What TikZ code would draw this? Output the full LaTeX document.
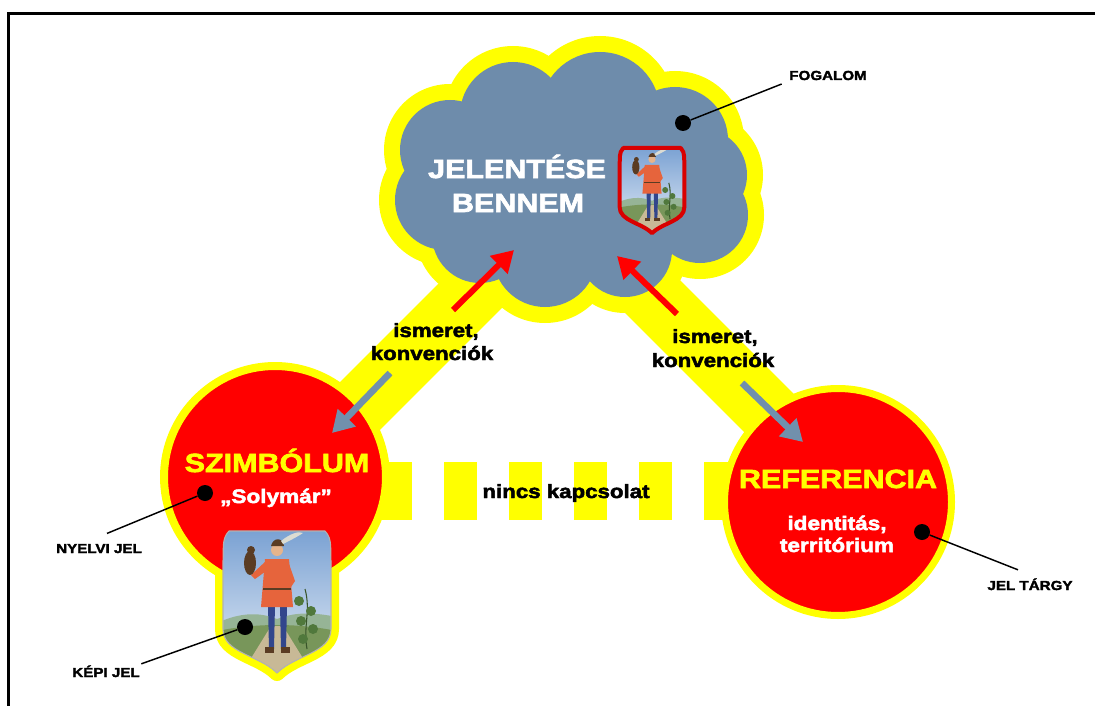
\documentclass[tikz,border=0pt]{standalone}
\usepackage{fontspec}
\setmainfont{Liberation Sans}[FakeStretch=1.16, FakeBold=2.5]
\usepackage{tikz}
\usetikzlibrary{arrows.meta, calc}
\definecolor{hlyellow}{HTML}{FFFF00}
\definecolor{signred}{HTML}{FF0000}
\definecolor{cloudblue}{HTML}{6E8CAB}
\definecolor{arrowgrey}{HTML}{7190AC}
\definecolor{crestsky}{RGB}{120,160,210}
\definecolor{crestfar}{RGB}{150,180,150}
\definecolor{crestgrass}{RGB}{120,150,90}
\definecolor{crestroad}{RGB}{200,185,150}
\definecolor{crestlegs}{RGB}{50,70,140}
\definecolor{cresttunic}{RGB}{230,100,60}
\definecolor{crestskin}{RGB}{230,180,140}
\definecolor{crestbird}{RGB}{90,60,35}
\definecolor{crestleaf}{RGB}{80,120,60}
\definecolor{crestfeather}{RGB}{220,220,210}

% outline of the coat of arms, top centre at (0,0)
\newcommand\crestpath{(-48,0) -- (48,0) .. controls (56,8) and (53,20) .. (54,30) -- (54,98) .. controls (54,122) and (18,124) .. (0,142) .. controls (-18,124) and (-54,122) .. (-54,98) -- (-54,30) .. controls (-53,20) and (-56,8) .. (-48,0) -- cycle}

\tikzset{
  pics/crest/.style={code={
    \begin{scope}
      \clip \crestpath;
      \shade[top color=crestsky, bottom color=crestsky!45!white] (-60,-4) rectangle (60,96);
      \fill[crestfar] (-60,92) .. controls (-30,78) and (-10,84) .. (0,88) .. controls (20,80) and (40,82) .. (60,86) -- (60,150) -- (-60,150) -- cycle;
      \fill[crestgrass] (-60,100) .. controls (-20,92) and (20,92) .. (60,100) -- (60,150) -- (-60,150) -- cycle;
      \fill[crestroad] (-6,95) -- (6,95) -- (40,150) -- (-40,150) -- cycle;
      % vine
      \draw[crestleaf!70!black, line width=0.8pt] (30,118) .. controls (26,95) and (34,80) .. (28,58);
      \foreach \lx/\ly in {22/70, 34/80, 24/90, 36/98, 26/108}
        \fill[crestleaf] (\lx,\ly) circle [radius=5];
      % falconer
      \fill[crestlegs] (-9,74) -- (-2,74) -- (-3,118) -- (-8,118) -- cycle;
      \fill[crestlegs] (3,74) -- (10,74) -- (9,118) -- (4,118) -- cycle;
      \fill[crestbird] (-12,116) rectangle (-3,122);
      \fill[crestbird] (4,116) rectangle (13,122);
      \fill[cresttunic] (-12,28) -- (12,28) -- (16,76) -- (-16,76) -- cycle;
      \fill[cresttunic] (-11,30) -- (-26,44) -- (-22,48) -- (-8,38) -- cycle;
      \fill[cresttunic] (11,30) -- (18,50) -- (14,56) -- (8,40) -- cycle;
      \draw[crestbird, line width=0.8pt] (-14,58) -- (14,58);
      \fill[crestskin] (0,19) circle [radius=6];
      \fill[crestbird] (-6,15) .. controls (-4,6) and (6,6) .. (7,15) -- cycle;
      \fill[crestfeather] (4,10) .. controls (14,2) and (22,0) .. (26,2) .. controls (20,6) and (12,10) .. (6,13) -- cycle;
      \fill[crestbird] (-27,32) ellipse [x radius=6, y radius=12];
      \fill[crestbird] (-26,19) circle [radius=4];
    \end{scope}
  }},
  sign/.style={circle, fill=signred, draw=hlyellow, inner sep=0pt},
  dot/.style={circle, fill=black, inner sep=0pt, minimum size=12pt},
  leader/.style={line width=1.1pt},
  callout/.style={font=\bfseries\fontsize{9.8}{11}\selectfont, inner sep=1pt, anchor=base},
  title/.style={font=\bfseries\fontsize{19.7}{22}\selectfont, inner sep=0pt, anchor=base},
  subtitle/.style={font=\bfseries\fontsize{14.6}{17}\selectfont, text=white, inner sep=0pt, anchor=base},
  linktext/.style={font=\bfseries\fontsize{14.4}{17}\selectfont, inner sep=0pt, anchor=base},
}

\begin{document}
\begin{tikzpicture}[x=0.75pt, y=-0.75pt, >={Triangle[length=16pt, width=18pt]}]

  \useasboundingbox (0,0) rectangle (1095,706);

  % Frame
  \draw[line width=2.25pt] (8,706) -- (8,14) -- (1095,14);

  % Centres
  \coordinate (symc) at (275,477);
  \coordinate (refc) at (838,502);
  \coordinate (fogc) at (561,205);

  % Yellow bands
  \draw[hlyellow, line width=46.5pt] (282,484) -- (fogc);
  \draw[hlyellow, line width=46.5pt] (838,482) -- (fogc);
  \draw[hlyellow, line width=43.5pt, dash pattern=on 24.75pt off 24pt] (379,491) -- (740,491);

  % Cloud, yellow rim
  \foreach \cx/\cy/\r in {513/115/53, 600/112/60, 675/140/53, 450/150/50, 445/200/50, 480/235/48,
                          545/255/52, 625/250/47, 700/215/48, 700/175/47, 575/185/90}
    \fill[hlyellow] (\cx,\cy) circle [radius=\r+16];

  % Coat of arms, yellow rim
  \begin{scope}[shift={(277,531)}]
    \draw[hlyellow, line width=12pt, line join=round] \crestpath;
  \end{scope}

  % Circles
  \node[sign, line width=6pt, minimum size=166.5pt] (sym) at (symc) {};
  \node[sign, line width=5.25pt, minimum size=170.25pt] (ref) at (refc) {};

  % Cloud body
  \foreach \cx/\cy/\r in {513/115/53, 600/112/60, 675/140/53, 450/150/50, 445/200/50, 480/235/48,
                          545/255/52, 625/250/47, 700/215/48, 700/175/47, 575/185/90}
    \fill[cloudblue] (\cx,\cy) circle [radius=\r];

  % Coats of arms
  \pic at (277,531) {crest};
  \begin{scope}[shift={(277,531)}]
    \draw[gray!60, line width=0.8pt, line join=round] \crestpath;
  \end{scope}
  \pic[scale=0.6] at (652,148) {crest};
  \begin{scope}[shift={(652,148)}, scale=0.6]
    \draw[signred!85!black, line width=3pt, line join=round] \crestpath;
  \end{scope}

  % Arrows
  \coordinate (lrt) at (453,310);
  \coordinate (lrh) at (514,250);
  \coordinate (rrt) at (677,314);
  \coordinate (rrh) at (617,256);
  \coordinate (lgt) at (390,373);
  \coordinate (lgh) at (332,433);
  \coordinate (rgt) at (742,383);
  \coordinate (rgh) at (803,442);
  \draw[->, signred, line width=4.5pt] (lrt) -- (lrh);
  \draw[->, signred, line width=4.5pt] (rrt) -- (rrh);
  \draw[->, arrowgrey, line width=5pt] (lgt) -- (lgh);
  \draw[->, arrowgrey, line width=5pt] (rgt) -- (rgh);

  % Texts
  \node[title, text=white] (fogt1) at (517,178) {JELENTÉSE};
  \node[title, text=white] (fogt2) at (518,212) {BENNEM};
  \node[title, text=hlyellow] (symt) at (277,472) {SZIMBÓLUM};
  \node[subtitle] (symq) at (276,503) {„Solymár”};
  \node[title, text=hlyellow] (reft) at (838,488) {REFERENCIA};
  \node[subtitle] (refs1) at (837,530) {identitás,};
  \node[subtitle] (refs2) at (837,552) {territórium};
  \node[linktext] (lk1) at (436,337) {ismeret,};
  \node[linktext] (lk2) at (432,360) {konvenciók};
  \node[linktext] (rk1) at (715,343) {ismeret,};
  \node[linktext] (rk2) at (713,367) {konvenciók};
  \node[linktext] (none) at (566,498) {nincs kapcsolat};

  % Callouts
  \node[dot] (fogdot) at (683,123) {};
  \node[dot] (nydot) at (205,493) {};
  \node[dot] (kepdot) at (245,627) {};
  \node[dot] (jtdot) at (922,532) {};
  \node[callout] (fogl) at (828,80) {FOGALOM};
  \node[callout] (nyl) at (99,553) {NYELVI JEL};
  \node[callout] (kepl) at (106,677) {KÉPI JEL};
  \node[callout] (jtl) at (1030,590) {JEL TÁRGY};
  \draw[leader] (fogdot) -- ($(fogl.base west)+(-6,4)$);
  \draw[leader] (nydot) -- ($(nyl.north)+(8,-9)$);
  \draw[leader] (kepdot) -- (kepl.north east);
  \draw[leader] (jtdot) -- ($(jtl.north)+(-12,-7)$);

\end{tikzpicture}
\end{document}
